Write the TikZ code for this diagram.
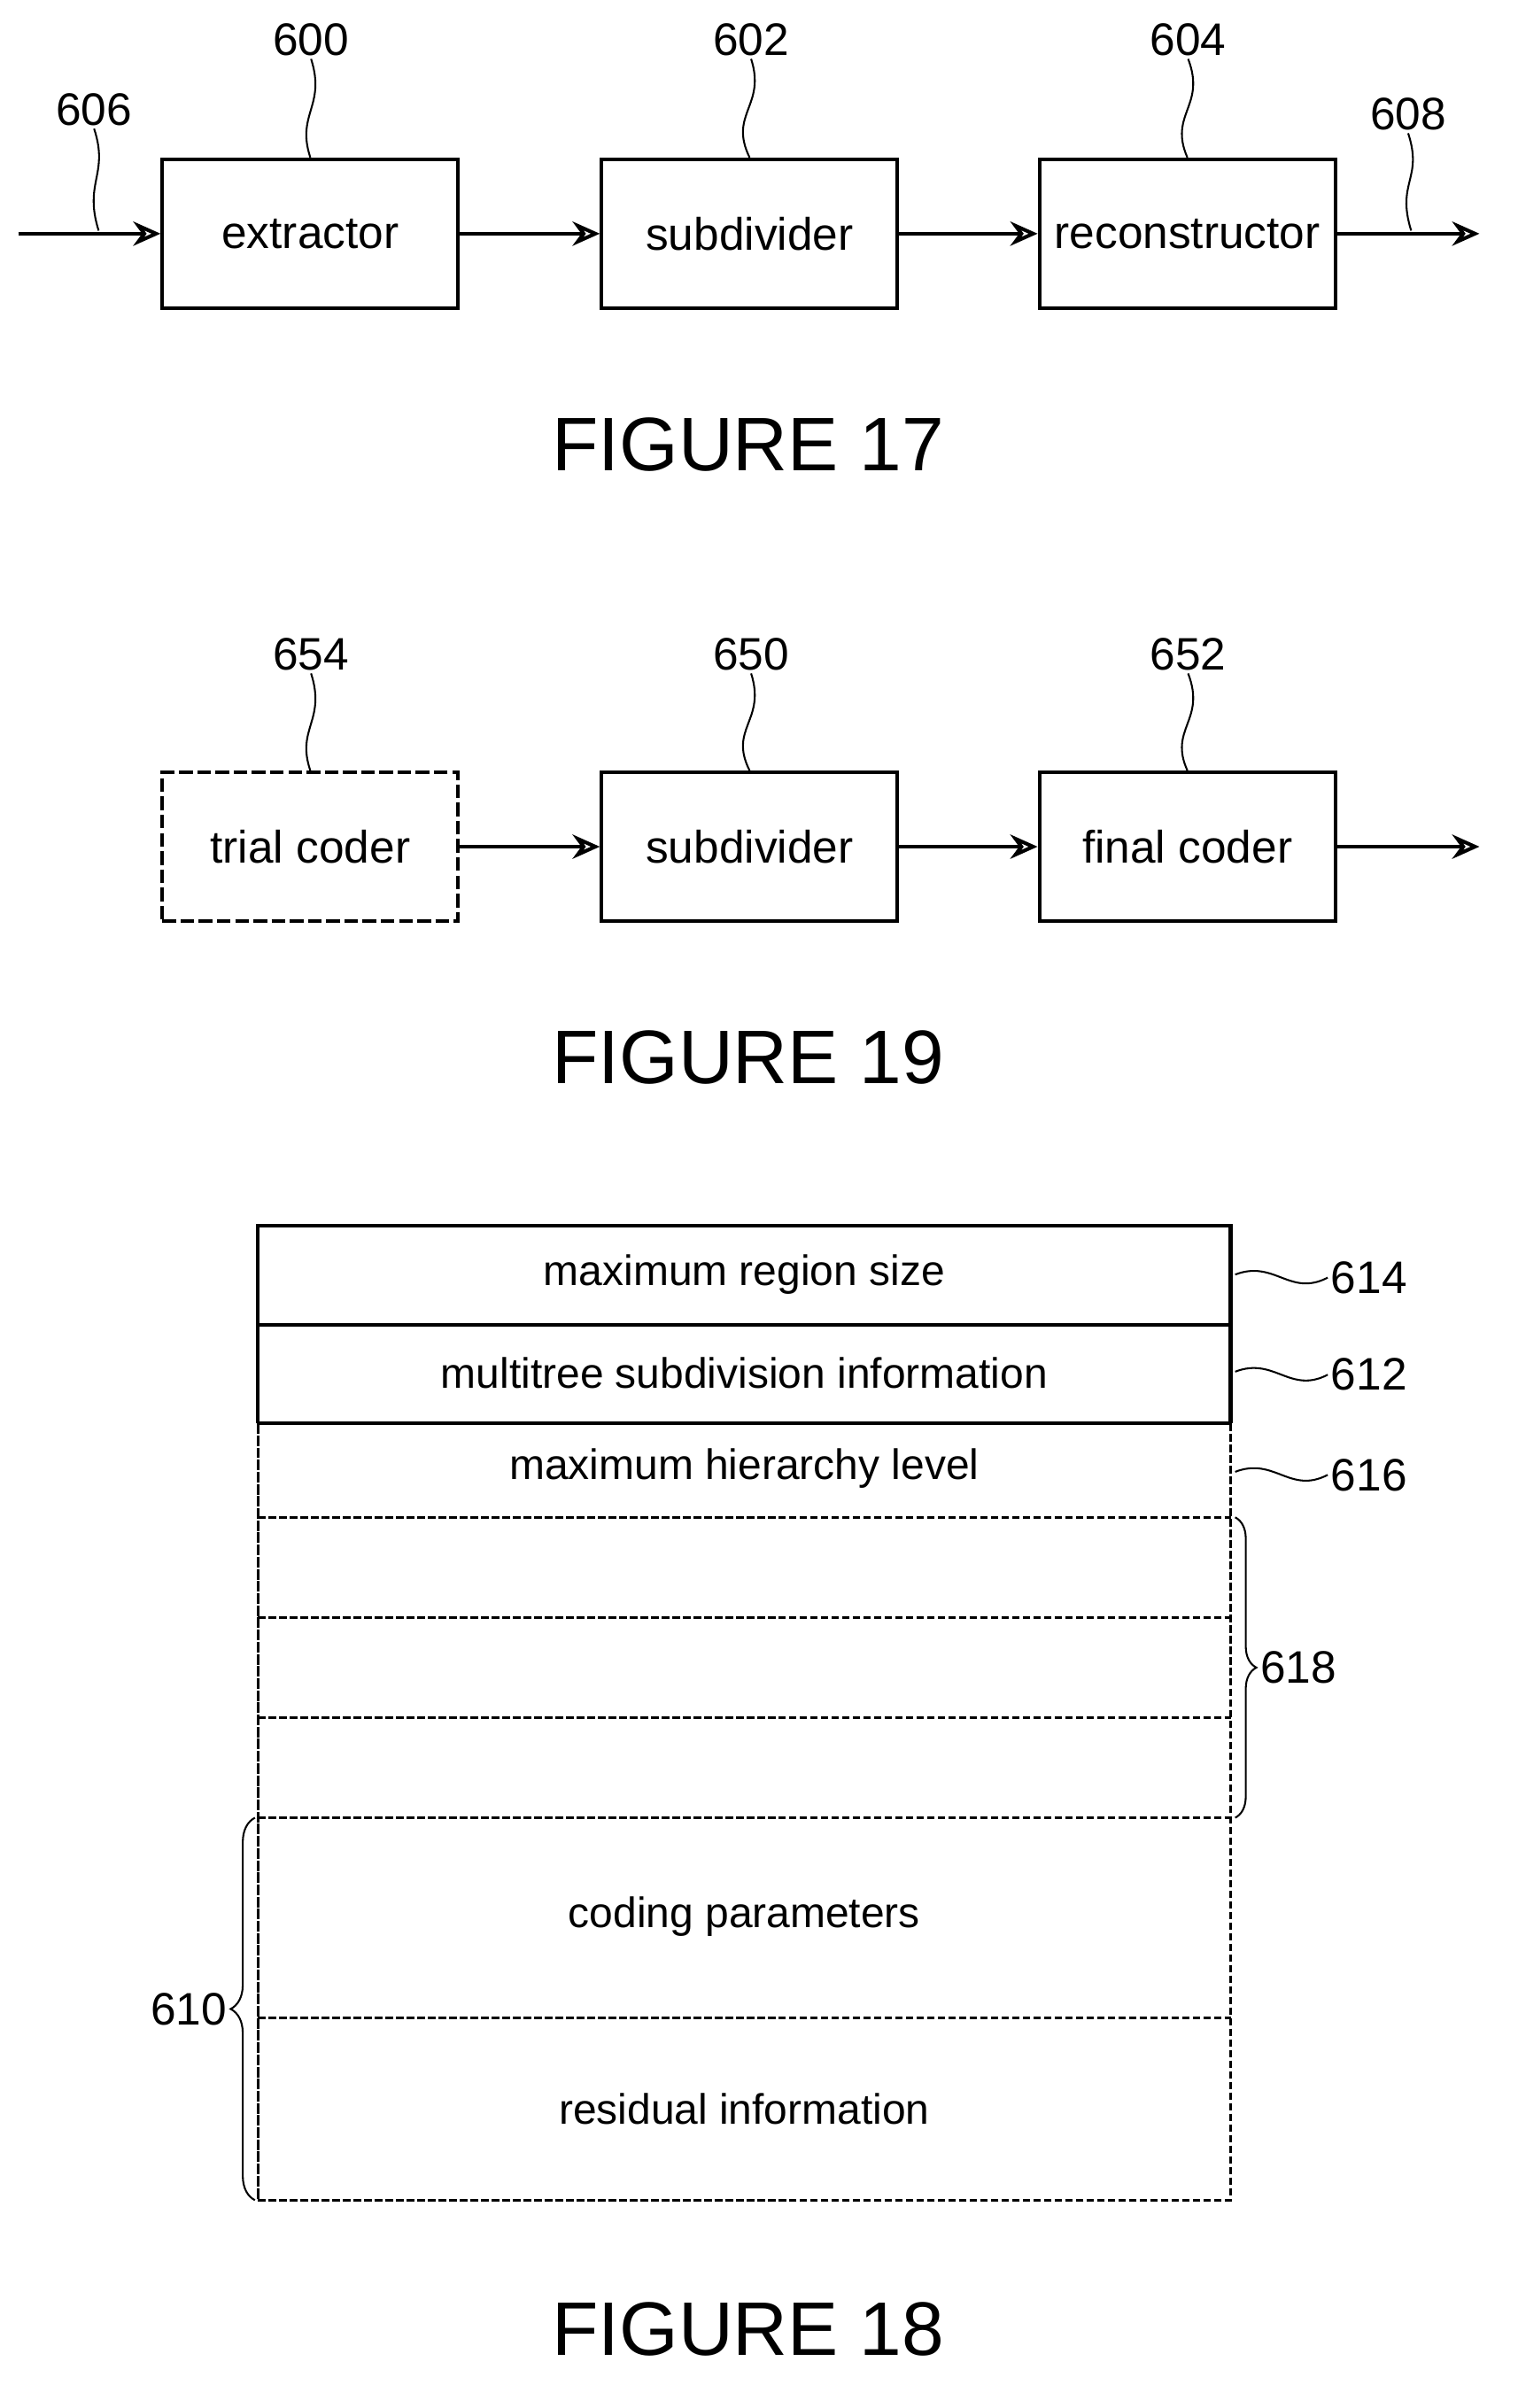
\documentclass[tikz,border=0pt]{standalone}
\usepackage{fontspec}
\setmainfont{Liberation Sans}
\usetikzlibrary{arrows.meta,decorations.pathreplacing}
\begin{document}
\begin{tikzpicture}[x=1pt,y=-1pt,
  box/.style={draw,line width=2.4pt,minimum width=195pt,minimum height=98pt,inner sep=0pt,font=\fontsize{30}{30}\selectfont},
  flow/.style={line width=2.4pt,-{Stealth[length=18pt,width=16pt,open]}},
  lbl/.style={font=\fontsize{30}{30}\selectfont,inner sep=2pt},
  fig/.style={font=\fontsize{50}{50}\selectfont},
  lead/.style={line width=1.2pt},
  txt/.style={font=\fontsize{28}{28}\selectfont},
  dsh/.style={line width=2pt,dash pattern=on 5pt off 2pt}]
\useasboundingbox (0,0) rectangle (1000,1587);
% Figure 17
\node[box] (ex) at (204.5,154) {extractor};
\node[box] (sd) at (494,154) {subdivider};
\node[box] (rc) at (782.5,154) {reconstructor};
\coordinate (in) at (12,154);
\coordinate (out) at (975,154);
\draw[flow] (in) -- (ex);
\draw[flow] (ex) -- (sd);
\draw[flow] (sd) -- (rc);
\draw[flow] (rc) -- (out);
\node[lbl] (l600) at (205,26) {600};
\node[lbl] (l602) at (495,26) {602};
\node[lbl] (l604) at (783,26) {604};
\node[lbl] (l606) at (62,72) {606};
\node[lbl] (l608) at (928,75) {608};
\draw[lead] (l600.south) .. controls (215,70) and (195,75) .. (ex.north);
\draw[lead] (l602.south) .. controls (505,70) and (480,75) .. (sd.north);
\draw[lead] (l604.south) .. controls (795,70) and (770,75) .. (rc.north);
\coordinate (a606) at (65,152);
\coordinate (a608) at (930,152);
\draw[lead] (l606.south) .. controls (72,115) and (55,120) .. (a606);
\draw[lead] (l608.south) .. controls (938,118) and (920,120) .. (a608);
\node[fig] (f17) at (493,293) {FIGURE 17};
% Figure 19
\node[box,dash pattern=on 9pt off 3pt] (tc) at (204.5,558) {trial coder};
\node[box] (sd2) at (494,558) {subdivider};
\node[box] (fc) at (782.5,558) {final coder};
\coordinate (out2) at (975,558);
\draw[flow] (tc) -- (sd2);
\draw[flow] (sd2) -- (fc);
\draw[flow] (fc) -- (out2);
\node[lbl] (l654) at (205,431) {654};
\node[lbl] (l650) at (495,431) {650};
\node[lbl] (l652) at (783,431) {652};
\draw[lead] (l654.south) .. controls (215,475) and (195,480) .. (tc.north);
\draw[lead] (l650.south) .. controls (505,475) and (480,480) .. (sd2.north);
\draw[lead] (l652.south) .. controls (795,475) and (770,480) .. (fc.north);
\node[fig] (f19) at (493,697) {FIGURE 19};
% Figure 18
\draw[line width=2.4pt] (170,938) -- (170,808) -- (811,808) -- (811,938);
\draw[line width=2.4pt] (170,873) -- (811,873);
\draw[line width=2.4pt] (170,938) -- (811,938);
\draw[line width=2pt,dash pattern=on 7pt off 1pt] (170,938) -- (170,1450);
\draw[dsh] (811,938) -- (811,1450) -- (170,1450);
\foreach \yy in {1000,1066,1132,1198,1330} \draw[dsh] (170,\yy) -- (811,\yy);
\node[txt] (r1) at (490.5,840) {maximum region size};
\node[txt] (r2) at (490.5,905) {multitree subdivision information};
\node[txt] (r3) at (490.5,968) {maximum hierarchy level};
\node[txt] (r4) at (490.5,1263) {coding parameters};
\node[txt] (r5) at (490.5,1390) {residual information};
\node[lbl,anchor=west] (l614) at (875,842) {614};
\node[lbl,anchor=west] (l612) at (875,906) {612};
\node[lbl,anchor=west] (l616) at (875,972) {616};
\coordinate (c614) at (814,840);
\coordinate (c612) at (814,904);
\coordinate (c616) at (814,970);
\draw[lead] (c614) .. controls (840,830) and (850,855) .. (l614.west);
\draw[lead] (c612) .. controls (840,894) and (850,919) .. (l612.west);
\draw[lead] (c616) .. controls (840,960) and (850,985) .. (l616.west);
\coordinate (b1) at (814,1000); \coordinate (b2) at (814,1198);
\draw[lead,decorate,decoration={brace,amplitude=14pt}] (b1) -- (b2) node[midway,right=14pt,lbl] (l618) {618};
\coordinate (b3) at (168,1198); \coordinate (b4) at (168,1450);
\draw[lead,decorate,decoration={brace,amplitude=16pt}] (b4) -- (b3) node[midway,left=16pt,lbl] (l610) {610};
\node[fig] (f18) at (493,1535) {FIGURE 18};
\end{tikzpicture}
\end{document}
